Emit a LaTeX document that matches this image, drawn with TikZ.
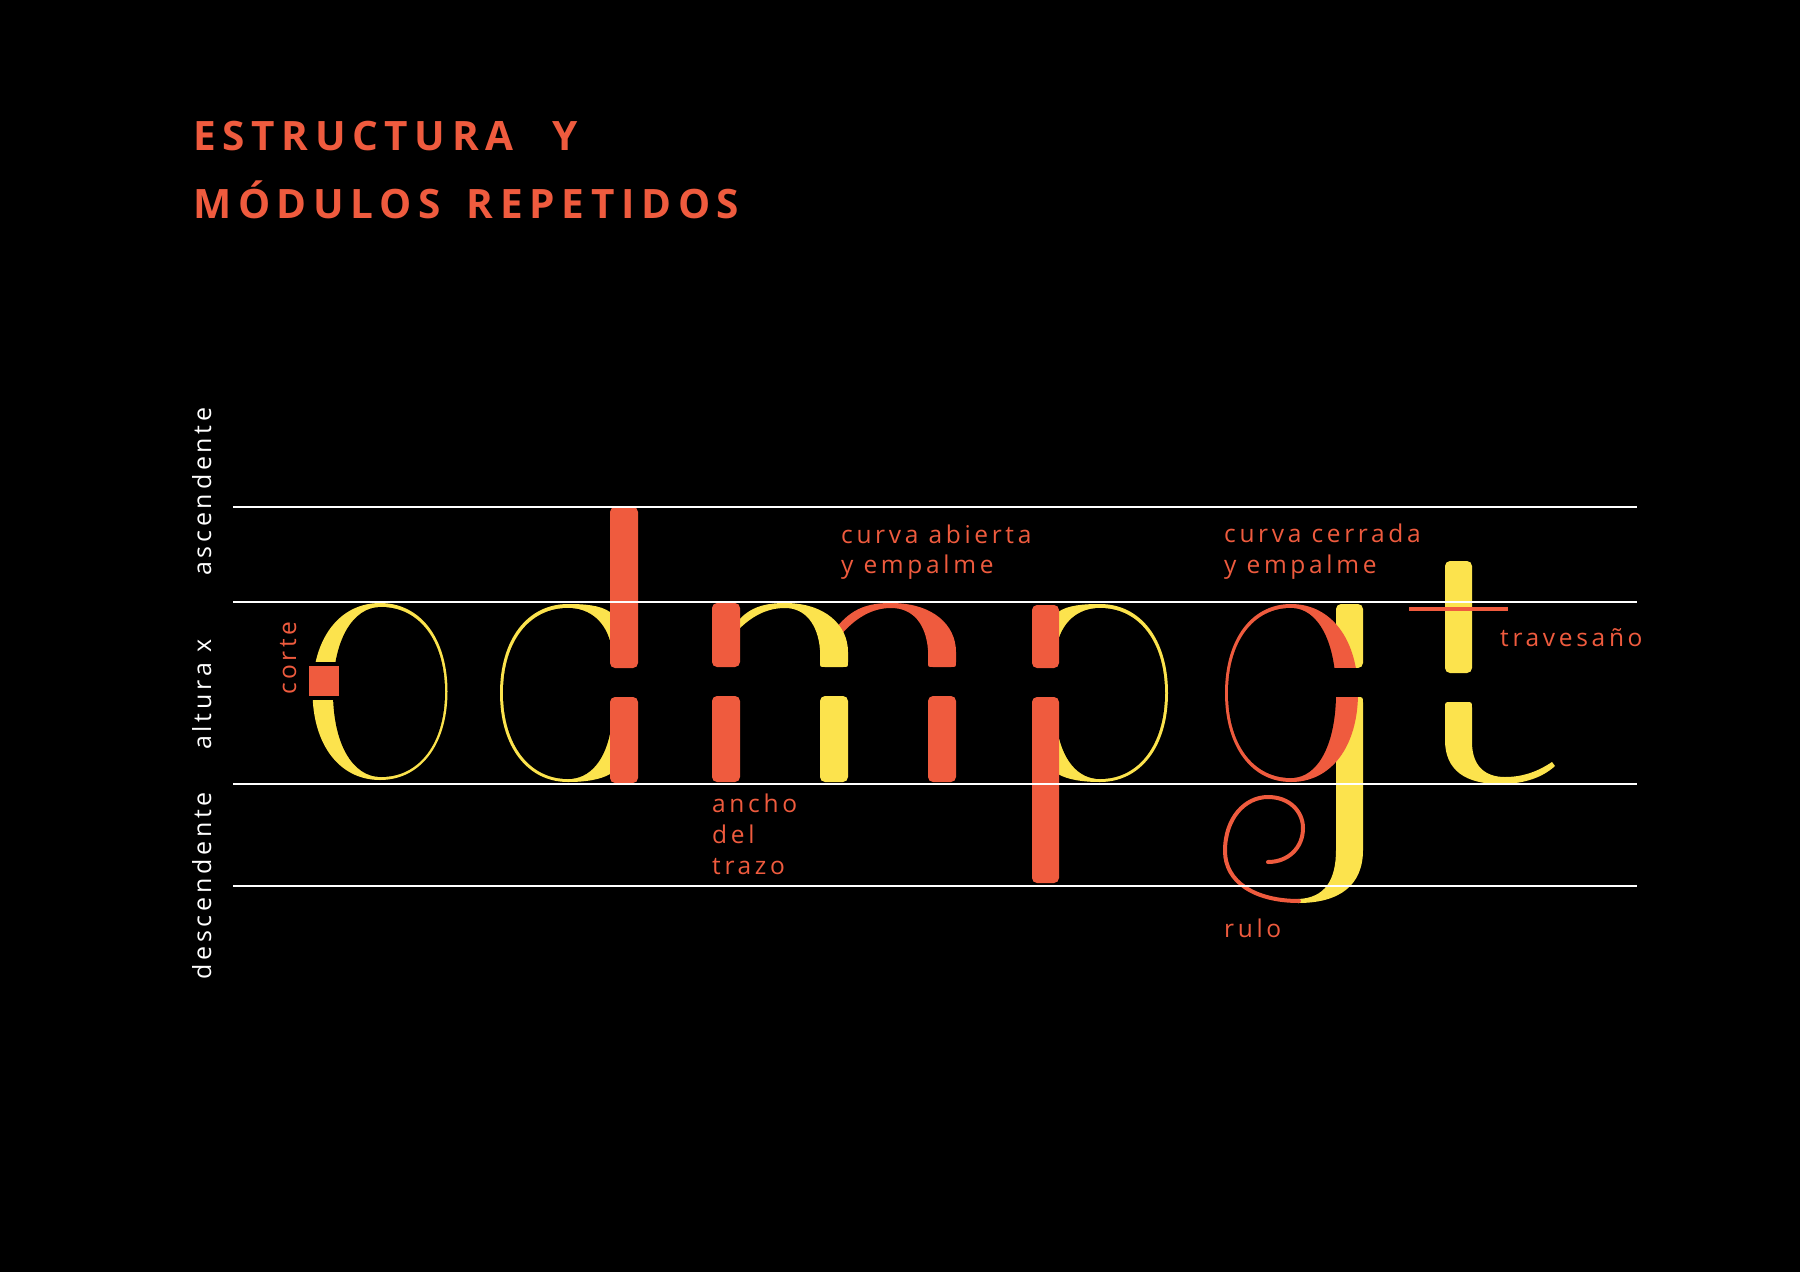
\documentclass[tikz,border=0pt]{standalone}
\usepackage{fontspec}
\newfontfamily\titlefont[LetterSpace=16.5]{Open Sans}
\newfontfamily\lblfont[LetterSpace=15]{Open Sans}
\definecolor{org}{RGB}{239,91,62}
\definecolor{ylw}{RGB}{252,227,77}
% superellipse-like oval: cx cy rxleft rxright rytop rybottom
\newcommand{\ovalpath}[6]{(#1,{#2-#5}) .. controls ({#1+0.6*#4},{#2-#5}) and ({#1+#4},{#2-0.6*#5}) .. ({#1+#4},#2) .. controls ({#1+#4},{#2+0.6*#6}) and ({#1+0.6*#4},{#2+#6}) .. (#1,{#2+#6}) .. controls ({#1-0.6*#3},{#2+#6}) and ({#1-#3},{#2+0.6*#6}) .. ({#1-#3},#2) .. controls ({#1-#3},{#2-0.6*#5}) and ({#1-0.6*#3},{#2-#5}) .. (#1,{#2-#5}) -- cycle}
\tikzset{
  ttl/.style={text=org, inner sep=0pt, font=\titlefont\bfseries\fontsize{40.5}{40.5}\selectfont},
  lbl/.style={text=org, inner sep=0pt, font=\lblfont\fontsize{24.5}{24.5}\selectfont},
  wlbl/.style={text=white, inner sep=0pt, font=\lblfont\fontsize{25}{25}\selectfont},
  guide/.style={draw=white, line width=1.8pt},
  stembox/.style={rounded corners=5pt},
}
\begin{document}
\begin{tikzpicture}[x=1pt,y=-1pt]
\fill[black] (0,0) rectangle (1800,1272);
\useasboundingbox (0,0) rectangle (1800,1272);

% title
\node[ttl, anchor=base west] (t1) at (193,150) {ESTRUCTURA\hspace{39pt}Y};
\node[ttl, anchor=base west] (t2) at (193,218) {MÓDULOS\hspace{26pt}REPETIDOS};

% ---- o ----
\fill[ylw] \ovalpath{380}{691.5}{67.5}{67.5}{88.5}{88.5};
\fill[black] \ovalpath{381}{692}{48}{64}{85}{85};
\fill[black] (304,662) rectangle (342,700);
\fill[org] (309,666) rectangle (339,696);

% ---- d ----
\fill[ylw] (610,612) .. controls (600,605) and (584,604) .. (568,604) .. controls (527,604) and (500,640) .. (500,693) .. controls (500,746) and (527,782) .. (568,782) .. controls (584,782) and (600,780) .. (610,774) -- cycle;
\fill[black] (611,645) .. controls (606,622) and (590,608) .. (568,608) .. controls (529,608) and (503,642) .. (503,693) .. controls (503,744) and (529,779) .. (568,779) .. controls (590,779) and (606,760) .. (611,728) -- cycle;
\fill[org, stembox] (610,507) rectangle (638,668);
\fill[org, stembox] (610,697) rectangle (638,783);

% ---- m ----
\fill[org] (836,628) .. controls (852,608) and (868,603) .. (891,603) .. controls (933,603) and (956,625) .. (956,652) -- (956,662) .. controls (956,667) .. (951,667) -- (933,667) .. controls (928,667) .. (928,662) -- (928,650) .. controls (926,624) and (913,608) .. (891,608) .. controls (872,608) and (855,618) .. (840,636) -- cycle;
\fill[ylw] (738,621) .. controls (750,607) and (765,603) .. (785,603) .. controls (825,603) and (848,625) .. (848,652) -- (848,662) .. controls (848,667) .. (843,667) -- (825,667) .. controls (820,667) .. (820,662) -- (820,650) .. controls (818,624) and (805,608) .. (785,608) .. controls (767,608) and (752,616) .. (738,630) -- cycle;
\fill[org, stembox] (712,603) rectangle (740,667);
\fill[org, stembox] (712,696) rectangle (740,782);
\fill[ylw, stembox] (820,696) rectangle (848,782);
\fill[org, stembox] (928,696) rectangle (956,782);

% ---- p ----
\fill[ylw] (1058,612) .. controls (1068,605) and (1084,604) .. (1100,604) .. controls (1141,604) and (1168,640) .. (1168,693) .. controls (1168,746) and (1141,782) .. (1100,782) .. controls (1084,782) and (1068,780) .. (1058,774) -- cycle;
\fill[black] (1057,645) .. controls (1062,622) and (1078,608) .. (1100,608) .. controls (1139,608) and (1165,642) .. (1165,693) .. controls (1165,744) and (1139,779) .. (1100,779) .. controls (1078,779) and (1062,760) .. (1057,728) -- cycle;
\fill[org, stembox] (1032,605) rectangle (1059,668);
\fill[org, stembox] (1032,697) rectangle (1059,883);

% ---- g ----
\fill[ylw, stembox] (1336,604) rectangle (1363,668);
\fill[ylw] (1336,703) .. controls (1336,697) .. (1342,697) -- (1357,697) .. controls (1363,697) .. (1363,703) -- (1363,850) .. controls (1363,885) and (1340,903) .. (1298,903) -- (1298,899) .. controls (1325,898) and (1336,880) .. (1336,850) -- cycle;
\fill[org] \ovalpath{1291}{693}{66}{67}{89}{89};
\fill[black] \ovalpath{1291}{693}{63}{45}{85}{85};
\fill[black] (1328,668) rectangle (1368,697);
\draw[org, line width=4pt, line cap=round] (1299,901) .. controls (1255,901) and (1225,882) .. (1225,851) .. controls (1225,818) and (1245,797) .. (1268,797) .. controls (1290,797) and (1303,812) .. (1303,828) .. controls (1303,848) and (1288,862) .. (1268,862);

% ---- t ----
\fill[ylw, stembox] (1445,561) rectangle (1472,673);
\fill[ylw] (1445,708) .. controls (1445,702) .. (1451,702) -- (1466,702) .. controls (1472,702) .. (1472,708) -- (1472,742) .. controls (1472,766) and (1485,777) .. (1505,777) .. controls (1525,777) and (1540,770) .. (1552,762) -- (1555,766) .. controls (1543,777) and (1525,784) .. (1500,784) .. controls (1465,784) and (1445,770) .. (1445,740) -- cycle;
\draw[org, line width=4pt] (1409,609) -- (1508,609);

% guide lines
\coordinate (a1) at (233,507); \coordinate (a2) at (1637,507);
\coordinate (x1) at (233,602); \coordinate (x2) at (1637,602);
\coordinate (b1) at (233,784); \coordinate (b2) at (1637,784);
\coordinate (d1) at (233,886); \coordinate (d2) at (1637,886);
\draw[guide] (a1) -- (a2);
\draw[guide] (x1) -- (x2);
\draw[guide] (b1) -- (b2);
\draw[guide] (d1) -- (d2);

% side labels
\node[wlbl, rotate=90, anchor=base west] (asc) at (211,576) {ascendente};
\node[wlbl, rotate=90, anchor=base west] (alt) at (211,750) {altura x};
\node[wlbl, rotate=90, anchor=base west] (desc) at (211,980) {descendente};
\node[lbl, rotate=90, anchor=base west] (cor) at (296,695) {corte};

% annotations
\node[lbl, anchor=base west] (ca1) at (841,543) {curva abierta};
\node[lbl, anchor=base west] (ca2) at (841,573) {y empalme};
\node[lbl, anchor=base west] (cc1) at (1224,542) {curva cerrada};
\node[lbl, anchor=base west] (cc2) at (1224,573) {y empalme};
\node[lbl, anchor=base west] (tra) at (1500,646) {travesaño};
\node[lbl, anchor=base west] (an1) at (712,812) {ancho};
\node[lbl, anchor=base west] (an2) at (712,843) {del};
\node[lbl, anchor=base west] (an3) at (712,874) {trazo};
\node[lbl, anchor=base west] (rul) at (1224,937) {rulo};
\end{tikzpicture}
\end{document}
